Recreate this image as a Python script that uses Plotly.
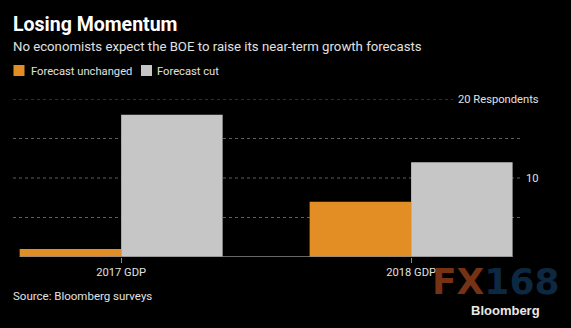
import plotly.graph_objects as go

categories = ["2017 GDP", "2018 GDP"]
unchanged = [1, 7]
cut = [18, 12]
series_names = ["Forecast unchanged", "Forecast cut"]
grid_values = [5, 10, 15, 20]
label_values = [10, 20]
label_texts = ["10", "20 Respondents"]

ORANGE = "#E38E25"
GRAY = "#C6C6C6"
FONT = "Roboto"

W, H = 571, 328
ML, MR, MT, MB = 13, 50, 99, 71
PW = W - ML - MR
PH = H - MT - MB

def px_x(p):
    return (p - ML) / PW

def px_y(p):
    return (H - MB - p) / PH

fig = go.Figure()
fig.add_trace(go.Bar(x=categories, y=unchanged, name=series_names[0],
                     marker=dict(color=ORANGE, line=dict(width=0))))
fig.add_trace(go.Bar(x=categories, y=cut, name=series_names[1],
                     marker=dict(color=GRAY, line=dict(width=0))))

shapes = []
for v in grid_values:
    x1 = 1 if v != 20 else px_x(453)
    shapes.append(dict(type="line", xref="paper", yref="y", x0=0, x1=x1, y0=v, y1=v,
                       line=dict(color="#5e5e5e", width=1, dash="dot"), layer="below"))
# baseline
shapes.append(dict(type="line", xref="x", yref="y", x0=-0.35, x1=1.35, y0=0, y1=0,
                   line=dict(color="#8a8a8a", width=1.5), layer="above"))
# legend swatches
shapes.append(dict(type="rect", xref="paper", yref="paper",
                   x0=px_x(13.5), x1=px_x(24.5), y0=px_y(76), y1=px_y(65),
                   fillcolor=ORANGE, line=dict(width=0)))
shapes.append(dict(type="rect", xref="paper", yref="paper",
                   x0=px_x(141), x1=px_x(152), y0=px_y(76), y1=px_y(65),
                   fillcolor=GRAY, line=dict(width=0)))

annotations = []
def txt(text, x, y, size, color="#e0e0e0", xanchor="left", yanchor="middle", bold=False, family=FONT):
    t = f"<b>{text}</b>" if bold else text
    annotations.append(dict(text=t, xref="paper", yref="paper", x=px_x(x), y=px_y(y),
                            xanchor=xanchor, yanchor=yanchor, showarrow=False,
                            font=dict(size=size, color=color, family=family)))

txt("Losing Momentum", 11, 25, 19.5, color="#ffffff", bold=True)
txt("No economists expect the BOE to raise its near-term growth forecasts", 11, 46, 13.2)
txt(series_names[0], 28.5, 71, 11.2)
txt(series_names[1], 155, 71, 11.2)
for v, t in zip(label_values, label_texts):
    annotations.append(dict(text=t, xref="paper", yref="y", x=px_x(541), y=v,
                            xanchor="right", yanchor="middle", showarrow=False,
                            font=dict(size=11.2, color="#e0e0e0", family=FONT)))
txt("Source: Bloomberg surveys", 11, 296, 11.5)
# watermark
annotations.append(dict(text="<b><span style='color:rgba(125,54,22,0.95)'>FX</span>"
                        "<span style='color:rgba(14,44,70,0.95)'>168</span></b>",
                        xref="paper", yref="paper", x=px_x(496), y=px_y(281),
                        xanchor="center", yanchor="middle", showarrow=False,
                        font=dict(size=36, family="DejaVu Sans")))
txt("Bloomberg", 505, 310, 13, color="#e8e8e8", xanchor="center", bold=True, family="Liberation Sans")

fig.update_layout(
    width=W, height=H,
    margin=dict(l=ML, r=MR, t=MT, b=MB, pad=0),
    paper_bgcolor="#000000", plot_bgcolor="#000000",
    barmode="group", bargap=0.3, bargroupgap=0,
    showlegend=False,
    xaxis=dict(range=[-0.373, 1.379], showgrid=False, zeroline=False, showline=False,
               ticks="outside", ticklen=5, tickcolor="#8a8a8a", tickwidth=1,
               tickfont=dict(size=11.2, color="#e0e0e0", family=FONT)),
    yaxis=dict(range=[0, 20], showgrid=False, zeroline=False, showline=False,
               showticklabels=False, ticks=""),
    shapes=shapes, annotations=annotations,
)

fig.write_html("out.html")
